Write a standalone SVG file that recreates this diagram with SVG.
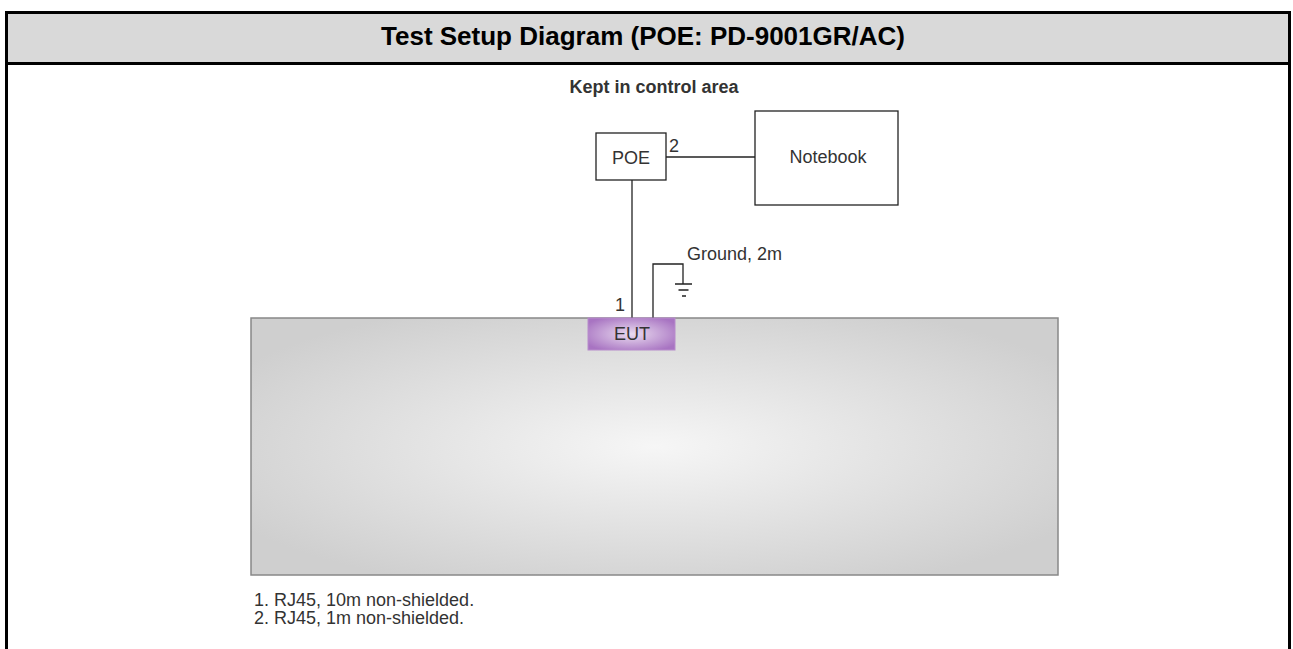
<svg xmlns="http://www.w3.org/2000/svg" width="1293" height="649" viewBox="0 0 1293 649">
  <defs>
    <radialGradient id="tableFill" cx="50%" cy="50%" r="60%">
      <stop offset="0" stop-color="#f6f6f6"/>
      <stop offset="1" stop-color="#cfcfcf"/>
    </radialGradient>
    <radialGradient id="eutFill" cx="50%" cy="50%" r="60%">
      <stop offset="0" stop-color="#eadcf0"/>
      <stop offset="1" stop-color="#a874c2"/>
    </radialGradient>
  </defs>
  <style>
    .frame { fill: none; stroke: #000; stroke-width: 3; }
    .box { fill: #fff; stroke: #222; stroke-width: 1.3; }
    .wire { fill: none; stroke: #222; stroke-width: 1.3; }
    .label { font-family: "Liberation Sans", Arial, sans-serif; fill: #333; font-size: 18px; }
    .title { font-family: "Liberation Sans", Arial, sans-serif; font-weight: bold; font-size: 26px; fill: #000; }
  </style>

  <!-- outer frame with header band -->
  <g id="frame">
    <rect x="0" y="0" width="1293" height="649" fill="#fff"/>
    <rect x="6.5" y="12.5" width="1283" height="51" fill="#d9d9d9"/>
    <path class="frame" d="M6.5 649 V12.5 H1289.5 V649 M6.5 63.5 H1289.5"/>
    <text class="title" x="643" y="45" text-anchor="middle">Test Setup Diagram (POE: PD-9001GR/AC)</text>
  </g>

  <text class="label" x="654" y="93" text-anchor="middle" font-weight="bold" fill="#222">Kept in control area</text>

  <!-- table -->
  <g id="table">
    <rect x="251" y="318" width="807" height="257" fill="url(#tableFill)" stroke="#888" stroke-width="1.5"/>
  </g>

  <!-- connectors -->
  <g id="connectors">
    <path class="wire" d="M666 157 H755"/>
    <path class="wire" d="M632 180 V318"/>
    <path class="wire" d="M653 318 V264 H683 V284"/>
    <path class="wire" d="M675 284 H692 M678.5 290 H688.5 M682 296 H686"/>
    <text class="label" x="669" y="152">2</text>
    <text class="label" x="615" y="311">1</text>
    <text class="label" x="687" y="260" font-size="14">Ground, 2m</text>
  </g>

  <g id="poe">
    <rect class="box" x="596" y="133" width="70" height="47"/>
    <text class="label" x="631" y="164" text-anchor="middle">POE</text>
  </g>

  <g id="notebook">
    <rect class="box" x="755" y="111" width="143" height="94"/>
    <text class="label" x="828" y="163" text-anchor="middle" fill="#444">Notebook</text>
  </g>

  <g id="eut">
    <rect x="588" y="318" width="87" height="32" fill="url(#eutFill)" stroke="#b88ccc" stroke-width="1"/>
    <text class="label" x="632" y="340" text-anchor="middle" fill="#222">EUT</text>
  </g>

  <g id="notes">
    <text class="label" x="254" y="606" fill="#555">1. RJ45, 10m non-shielded.</text>
    <text class="label" x="254" y="624" fill="#555">2. RJ45, 1m non-shielded.</text>
  </g>
</svg>
